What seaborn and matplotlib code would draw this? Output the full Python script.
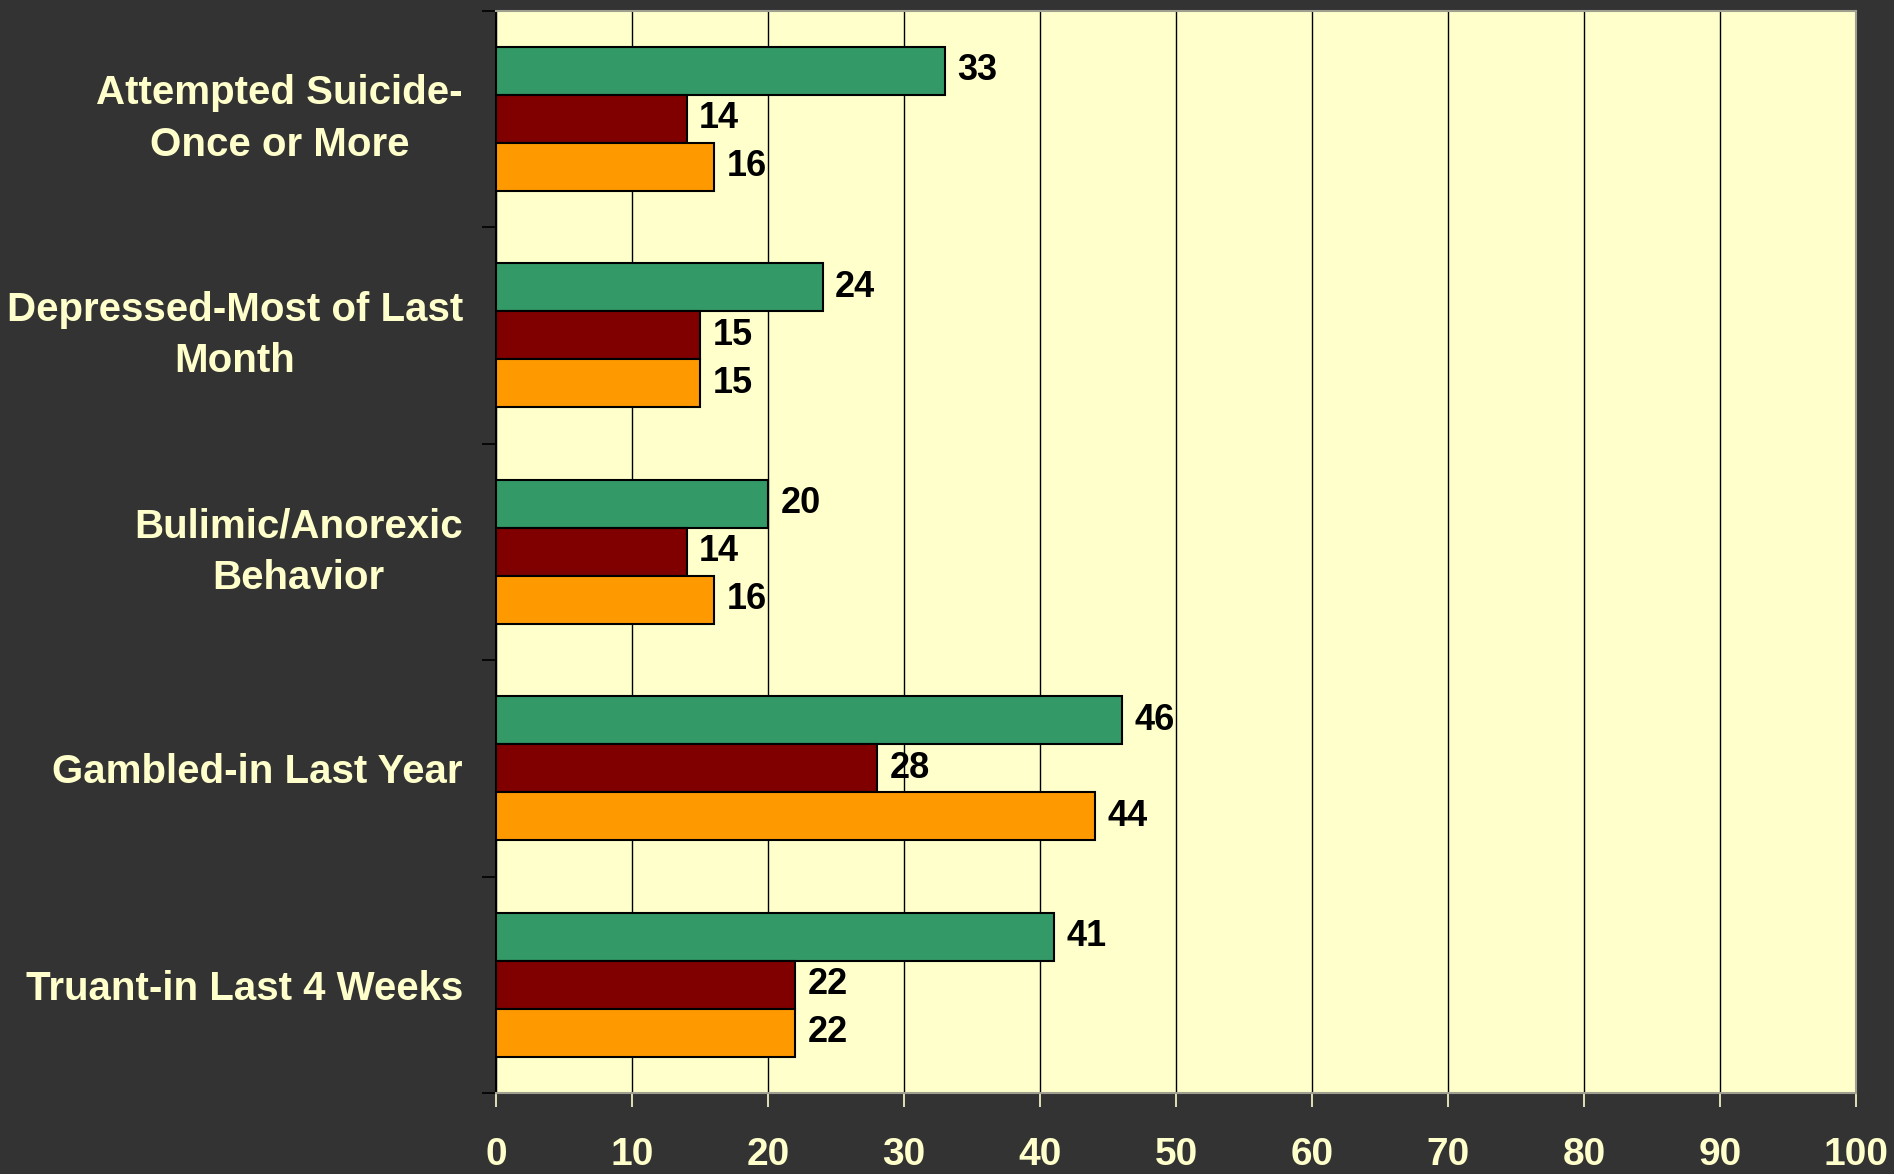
import pandas as pd
import matplotlib
matplotlib.use('Agg')
import matplotlib.pyplot as plt
import seaborn as sns

# data
categories = ['Attempted Suicide-\nOnce or More',
              'Depressed-Most of Last\nMonth',
              'Bulimic/Anorexic\nBehavior',
              'Gambled-in Last Year',
              'Truant-in Last 4 Weeks']
series_names = ['Series 1', 'Series 2', 'Series 3']
series_1 = [33, 24, 20, 46, 41]
series_2 = [14, 15, 14, 28, 22]
series_3 = [16, 15, 16, 44, 22]
colors = ['#339966', '#800000', '#FF9900']
x_ticks = [0, 10, 20, 30, 40, 50, 60, 70, 80, 90, 100]

rows = []
for name, vals in zip(series_names, [series_1, series_2, series_3]):
    for cat, v in zip(categories, vals):
        rows.append({'Category': cat, 'Series': name, 'Value': v})
df = pd.DataFrame(rows)

sns.set_style('white')
plt.rcParams['font.family'] = ['Liberation Sans', 'DejaVu Sans']
plt.rcParams['font.weight'] = 'bold'

bg = '#333333'
pale = '#FFFFCC'

fig = plt.figure(figsize=(18.94, 11.74), dpi=100, facecolor=bg)
ax = fig.add_axes([0.262, 0.069, 0.718, 0.922])
ax.set_facecolor(pale)

sns.barplot(data=df, x='Value', y='Category', hue='Series', order=categories,
            hue_order=series_names, palette=colors, saturation=1, orient='h',
            width=0.667, gap=0, edgecolor='black', linewidth=1.5, legend=False,
            ax=ax, err_kws={'linewidth': 0}, zorder=3)

for c in ax.containers:
    ax.bar_label(c, padding=9, fontsize=26, fontweight='bold', color='black')

ax.set_xlim(0, 100)
ax.set_ylim(4.5, -0.5)
ax.set_xticks(x_ticks)
ax.grid(axis='x', color='black', linewidth=1, zorder=0)
ax.grid(axis='y', visible=False)
ax.set_axisbelow(True)
ax.set_xlabel('')
ax.set_ylabel('')

ax.tick_params(axis='x', colors=pale, labelsize=28, length=10, width=1.2,
               pad=22, direction='out', bottom=True)
ax.tick_params(axis='y', which='major', colors=pale, labelsize=29, length=0,
               pad=24)
ax.set_yticks([-0.5, 0.5, 1.5, 2.5, 3.5, 4.5], minor=True)
ax.tick_params(axis='y', which='minor', length=10, width=1.2, color='black',
               direction='out', left=True)
for lbl in ax.get_yticklabels():
    lbl.set_fontweight('bold')
    if '\n' in lbl.get_text():
        lbl.set_multialignment('center')
        lbl.set_linespacing(1.45)
        lbl.set_verticalalignment('center')
for lbl in ax.get_xticklabels():
    lbl.set_fontweight('bold')

for side in ['top', 'right', 'bottom']:
    ax.spines[side].set_color('#A0A090')
    ax.spines[side].set_linewidth(1.5)
ax.spines['left'].set_color('black')
ax.spines['left'].set_linewidth(1.5)

fig.savefig('out.png', dpi=100, facecolor=bg)
